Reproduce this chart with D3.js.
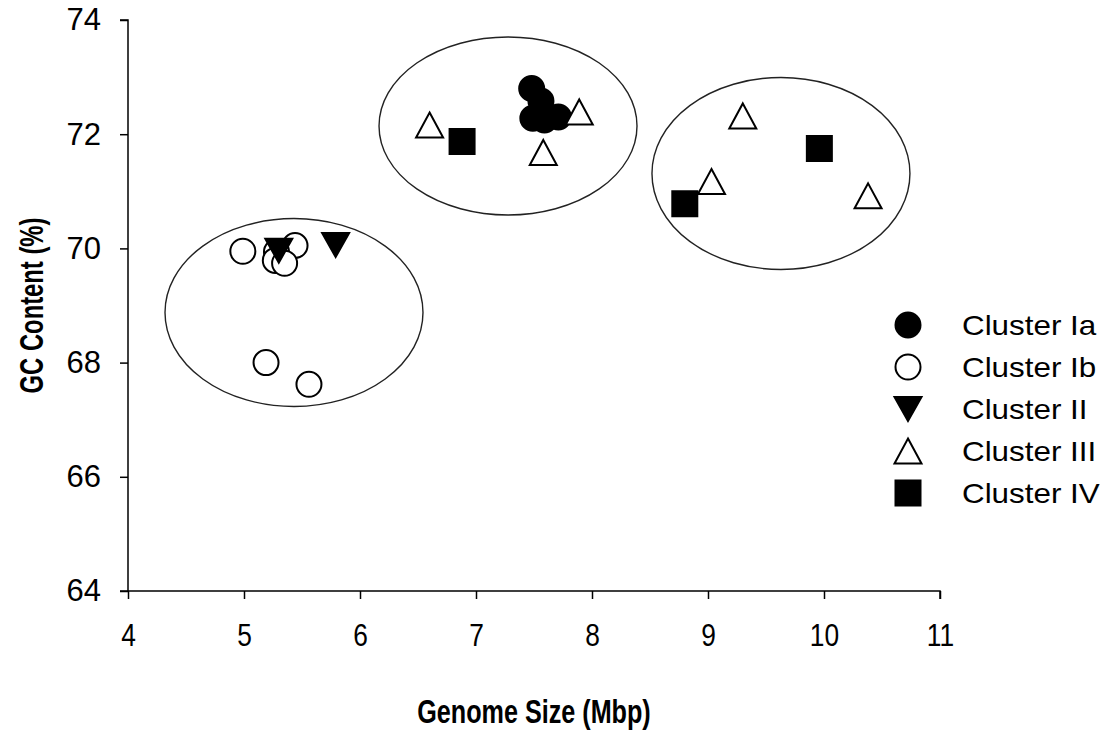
<!DOCTYPE html>
<html>
<head>
<meta charset="utf-8">
<script src="https://cdn.jsdelivr.net/npm/d3@7/dist/d3.min.js"></script>
<style>
  html, body { margin: 0; padding: 0; background: #fff; }
  svg { display: block; font-family: Arial, "Liberation Sans", sans-serif; }
</style>
</head>
<body>
<svg id="chart" width="1106" height="747"></svg>
<script>
// Genome size (Mbp) and GC content (%) per cluster
const clusterNames = ["Cluster Ia", "Cluster Ib", "Cluster II", "Cluster III", "Cluster IV"];

const sizeIa = [7.48, 7.56, 7.49, 7.59, 7.71];
const gcIa   = [72.80, 72.58, 72.28, 72.25, 72.30];

const sizeIb = [4.99, 5.44, 5.28, 5.27, 5.35, 5.19, 5.56];
const gcIb   = [69.95, 70.05, 69.94, 69.79, 69.74, 68.00, 67.62];

const sizeII = [5.30, 5.79];
const gcII   = [69.96, 70.06];

const sizeIII = [6.60, 7.58, 7.89, 9.30, 9.03, 10.38];
const gcIII   = [72.16, 71.68, 72.39, 72.32, 71.17, 70.92];

const sizeIV = [6.88, 9.96, 8.80];
const gcIV   = [71.87, 71.75, 70.78];

// Grouping ellipses (centre and radii in data units)
const groupSize    = [7.276, 5.431, 9.629];
const groupGC      = [72.144, 68.877, 71.312];
const groupRadSize = [1.112, 1.112, 1.112];
const groupRadGC   = [1.559, 1.646, 1.681];

const xTicks = [4, 5, 6, 7, 8, 9, 10, 11];
const yTicks = [64, 66, 68, 70, 72, 74];

const svg = d3.select("#chart");

const x = d3.scaleLinear().domain([4, 11]).range([128, 940]);
const y = d3.scaleLinear().domain([64, 74]).range([591, 20]);

// Squeeze or stretch a text element horizontally by a factor
function fitWidth(sel, factor) {
  sel.each(function () {
    const w = this.getComputedTextLength();
    d3.select(this).attr("textLength", w * factor).attr("lengthAdjust", "spacingAndGlyphs");
  });
}

// Marker shapes
function markerPath(kind) {
  const p = d3.path();
  if (kind === "circle") {
    p.arc(0, 0, 12.5, 0, 2 * Math.PI);
  } else if (kind === "down") {
    p.moveTo(-13.5, -12); p.lineTo(13.5, -12); p.lineTo(0, 12); p.closePath();
  } else if (kind === "up") {
    p.moveTo(0, -12.5); p.lineTo(13.5, 12.5); p.lineTo(-13.5, 12.5); p.closePath();
  } else if (kind === "square") {
    p.rect(-12.5, -12.5, 25, 25);
  }
  return p.toString();
}

const styles = [
  { kind: "circle", fill: "#000", stroke: "#000" },
  { kind: "circle", fill: "#fff", stroke: "#000" },
  { kind: "down",   fill: "#000", stroke: "#000" },
  { kind: "up",     fill: "#fff", stroke: "#000" },
  { kind: "square", fill: "#000", stroke: "#000" }
];

// Ellipses
const ell = svg.append("g");
groupSize.forEach((cx, i) => {
  ell.append("ellipse")
    .attr("cx", x(cx))
    .attr("cy", y(groupGC[i]))
    .attr("rx", x(cx + groupRadSize[i]) - x(cx))
    .attr("ry", y(groupGC[i] - groupRadGC[i]) - y(groupGC[i]))
    .attr("fill", "none")
    .attr("stroke", "#222")
    .attr("stroke-width", 1.4);
});

// Axes
const yAxis = d3.axisLeft(y).tickValues(yTicks).tickSize(8).tickPadding(19).tickFormat(d3.format("d"));
const xAxis = d3.axisBottom(x).tickValues(xTicks).tickSize(8).tickPadding(25).tickFormat(d3.format("d"));

const gy = svg.append("g").attr("transform", `translate(${x(4)},0)`).call(yAxis);
const gx = svg.append("g").attr("transform", `translate(0,${y(64)})`).call(xAxis);

[gx, gy].forEach(g => {
  g.select(".domain").attr("stroke", "#000").attr("stroke-width", 1.5);
  g.selectAll(".tick line").attr("stroke", "#000").attr("stroke-width", 1.5);
  g.selectAll(".tick text")
    .attr("fill", "#000")
    .style("font-family", "Arial, 'Liberation Sans', sans-serif")
    .style("font-size", "31px");
});
fitWidth(gx.selectAll(".tick text"), 0.85);
gy.select(".domain").attr("d", `M-8,${y(74)}H0V${y(64)}`);
gx.select(".domain").attr("d", `M${x(4) - 8},0H${x(11)}V8`);

// Points, series by series
const seriesSize = [sizeIa, sizeIb, sizeII, sizeIII, sizeIV];
const seriesGC = [gcIa, gcIb, gcII, gcIII, gcIV];
const drawOrder = [1, 2, 0, 4, 3];
drawOrder.forEach(si => {
  const st = styles[si];
  const pts = seriesSize[si].map((v, j) => [v, seriesGC[si][j]]);
  svg.append("g").selectAll("path").data(pts).join("path")
    .attr("transform", d => `translate(${x(d[0])},${y(d[1])})`)
    .attr("d", markerPath(st.kind))
    .attr("fill", st.fill)
    .attr("stroke", st.stroke)
    .attr("stroke-width", 2);
});

// Axis titles
svg.append("text")
  .attr("x", (x(4) + x(11)) / 2)
  .attr("y", 723)
  .attr("text-anchor", "middle")
  .style("font-weight", "bold")
  .style("font-size", "34px")
  .text("Genome Size (Mbp)")
  .call(fitWidth, 0.74);

svg.append("text")
  .attr("transform", `translate(43,${(y(74) + y(64)) / 2}) rotate(-90)`)
  .attr("text-anchor", "middle")
  .style("font-weight", "bold")
  .style("font-size", "34px")
  .text("GC Content (%)")
  .call(fitWidth, 0.7);

// Legend
const legend = svg.append("g");
clusterNames.forEach((name, i) => {
  const ly = 325 + i * 42;
  const st = styles[i];
  legend.append("path")
    .attr("transform", `translate(908,${ly})`)
    .attr("d", markerPath(st.kind))
    .attr("fill", st.fill)
    .attr("stroke", st.stroke)
    .attr("stroke-width", 2);
  legend.append("text")
    .attr("x", 962)
    .attr("y", ly)
    .attr("dy", "0.35em")
    .style("font-size", "28px")
    .text(name)
    .call(fitWidth, 1.12);
});
</script>
</body>
</html>
